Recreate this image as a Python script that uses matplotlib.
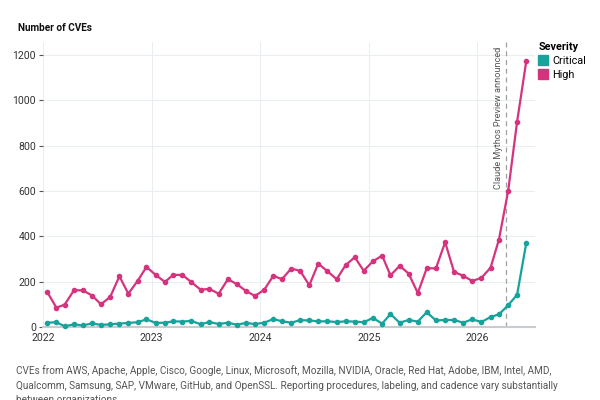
import matplotlib
matplotlib.use("Agg")
import matplotlib.pyplot as plt
import matplotlib.dates as mdates
from matplotlib.lines import Line2D
import pandas as pd
import numpy as np

plt.rcParams['font.family'] = ['Roboto', 'DejaVu Sans']

start_month = "2022-01-01"
n_months = 54
high = [155, 85, 99, 162, 162, 139, 100, 133, 224, 147, 203, 265,
        230, 199, 230, 230, 198, 165, 168, 147, 211, 189, 159, 137,
        164, 226, 211, 258, 248, 184, 280, 246, 211, 273, 308, 248,
        290, 315, 228, 270, 236, 150, 259, 259, 374, 243, 226, 203,
        217, 262, 386, 600, 905, 1174]
critical = [19, 21, 3, 12, 7, 16, 9, 12, 15, 18, 21, 34,
            18, 19, 25, 24, 27, 12, 22, 13, 19, 10, 18, 13,
            19, 35, 25, 19, 30, 29, 25, 25, 22, 25, 24, 21,
            40, 15, 57, 19, 31, 24, 65, 29, 31, 31, 19, 34,
            22, 44, 56, 96, 142, 371]
announce_date = "2026-04-07"
series_names = ["Critical", "High"]
colors = ["#17a39b", "#d6337f"]
caption = ("CVEs from AWS, Apache, Apple, Cisco, Google, Linux, Microsoft, Mozilla, NVIDIA, Oracle, Red Hat, Adobe, IBM, Intel, AMD,\n"
           "Qualcomm, Samsung, SAP, VMware, GitHub, and OpenSSL. Reporting procedures, labeling, and cadence vary substantially\n"
           "between organizations.")

dates = pd.date_range(start_month, periods=n_months, freq="MS") + pd.Timedelta(days=14)

fig = plt.figure(figsize=(6, 4), dpi=100)
ax = fig.add_axes([0.0717, 0.1825, 0.8203, 0.7125])

for name, vals, c in zip(series_names, [critical, high], colors):
    ax.plot(dates, vals, color=c, lw=1.6, marker='o', ms=3.0, zorder=3, clip_on=False)

ax.axvline(pd.Timestamp(announce_date), color="#a0a0a0", lw=0.9, ls=(0, (4, 3)), zorder=2)
ax.text(pd.Timestamp(announce_date) - pd.Timedelta(days=24), 1238, "Claude Mythos Preview announced",
        rotation=90, ha='center', va='top', fontsize=6.6, color="#555555")

ax.set_xlim(pd.Timestamp("2022-01-01"), pd.Timestamp("2026-07-15"))
ax.set_ylim(0, 1258)
ax.set_yticks([0, 200, 400, 600, 800, 1000, 1200])
ax.xaxis.set_major_locator(mdates.YearLocator())
ax.xaxis.set_major_formatter(mdates.DateFormatter('%Y'))
ax.grid(True, color="#ebeef0", lw=0.8, zorder=0)
ax.set_axisbelow(True)
for s in ['top', 'right', 'left']:
    ax.spines[s].set_visible(False)
ax.spines['bottom'].set_color("#c8cccf")
ax.spines['bottom'].set_linewidth(1.5)
ax.tick_params(axis='y', length=3, color="#555555", labelsize=7.6, labelcolor="#333333", pad=2)
ax.tick_params(axis='x', length=0, labelsize=7.6, labelcolor="#333333", pad=4)

fig.text(0.03, 0.93, "Number of CVEs", fontsize=7.2, fontweight='bold', color="#111111", va='center')

handles = [Line2D([0], [0], marker='s', color='none', markerfacecolor=c, markeredgecolor=c, ms=6.5)
           for c in colors]
leg = fig.legend(handles, series_names, title="Severity", loc='upper left',
                 bbox_to_anchor=(0.89, 0.905), frameon=False, fontsize=7.8,
                 title_fontsize=7.8, handlelength=0.8, handletextpad=0.5,
                 borderaxespad=0, labelspacing=0.35)
leg.get_title().set_fontweight('bold')
leg._legend_box.align = "left"

fig.text(0.027, 0.088, caption, fontsize=7.2, color="#555555", va='top', linespacing=1.6)

fig.savefig("out.png", dpi=100, facecolor="white")
